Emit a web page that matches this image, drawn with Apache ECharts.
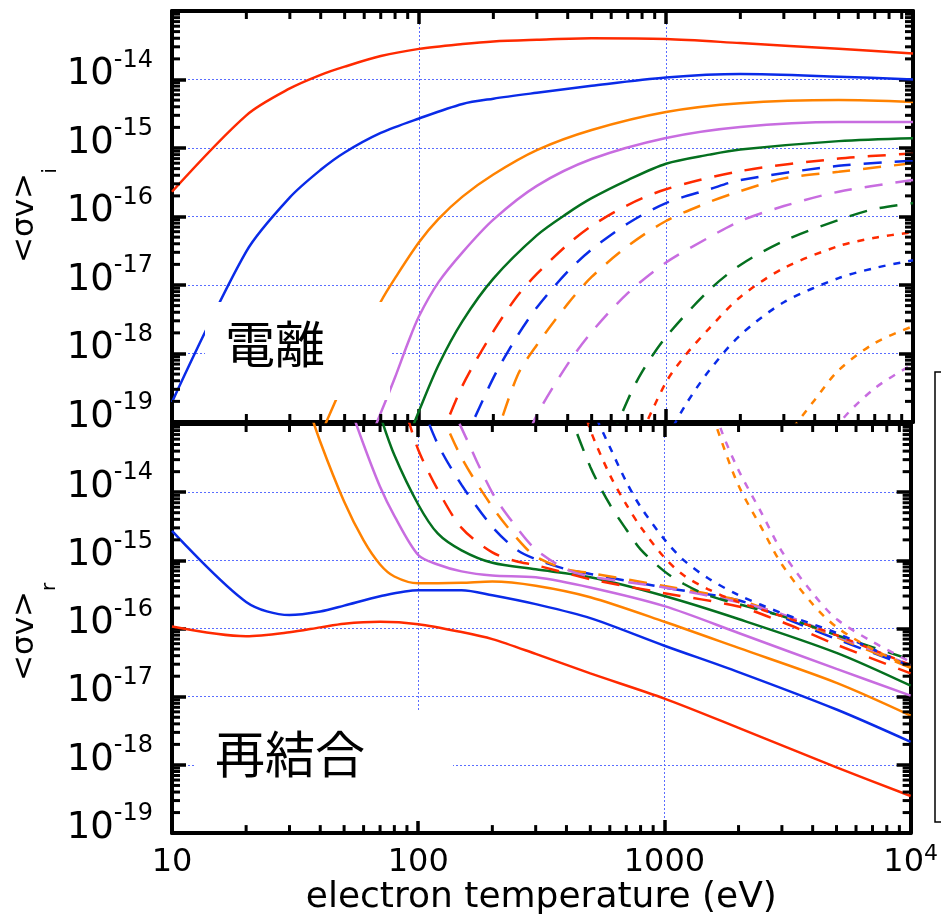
<!DOCTYPE html>
<html>
<head>
<meta charset="utf-8">
<script src="https://cdn.jsdelivr.net/npm/echarts@6/dist/echarts.min.js"></script>
<style>
  html, body { margin: 0; padding: 0; background: #fff; }
  #chart { width: 941px; height: 917px; }
</style>
</head>
<body>
<div id="chart"></div>
<script>
// Silicon ionization / recombination rate coefficients <σv> (cm^3/s) vs electron temperature (eV).
// Each array holds [Te, rate] pairs for one charge state.

// Ionization Si(z) -> Si(z+1)
const ion0  = [[10,2.3e-16],[20,3.0e-15],[30,7.4e-15],[40,1.17e-14],[50,1.54e-14],[70,2.2e-14],[100,2.8e-14],[150,3.3e-14],[200,3.6e-14],[300,3.8e-14],[500,4.0e-14],[1000,3.9e-14],[2000,3.4e-14],[5000,2.8e-14],[10000,2.4e-14]];
const ion1  = [[10,1.95e-19],[20,3.1e-17],[30,1.9e-16],[40,4.8e-16],[50,8.6e-16],[70,1.66e-15],[100,2.7e-15],[150,4.4e-15],[200,5.25e-15],[300,6.4e-15],[500,8.1e-15],[1000,1.07e-14],[2000,1.2e-14],[5000,1.1e-14],[10000,1.0e-14]];
const ion2  = [[40,6.5e-20],[50,4.1e-19],[60,1.86e-18],[70,5.7e-18],[80,1.26e-17],[100,4.2e-17],[120,9.2e-17],[150,1.95e-16],[200,4.1e-16],[300,9.3e-16],[500,1.83e-15],[1000,3.35e-15],[2000,4.5e-15],[5000,5.0e-15],[10000,4.7e-15]];
const ion3  = [[60,3.5e-20],[70,1.35e-19],[80,4.5e-19],[90,1.4e-18],[100,3.5e-18],[120,1.1e-17],[150,3.0e-17],[200,9.0e-17],[300,2.8e-16],[500,6.9e-16],[1000,1.4e-15],[2000,2.03e-15],[5000,2.4e-15],[10000,2.4e-15]];
const ion4  = [[90,5.5e-20],[100,1.45e-19],[120,6.8e-19],[150,2.97e-18],[200,1.24e-17],[300,5.3e-17],[400,1.12e-16],[500,1.85e-16],[700,3.4e-16],[1000,5.9e-16],[1500,8.0e-16],[2000,9.5e-16],[5000,1.26e-15],[10000,1.39e-15]];
const ion5  = [[120,4.9e-20],[150,3.4e-19],[200,2.1e-18],[250,6.9e-18],[300,1.45e-17],[400,3.9e-17],[500,7.3e-17],[700,1.47e-16],[1000,2.5e-16],[2000,4.6e-16],[5000,7.0e-16],[10000,8.3e-16]];
const ion6  = [[150,4.6e-20],[200,4.4e-19],[250,1.8e-18],[300,4.7e-18],[400,1.57e-17],[500,3.3e-17],[700,7.9e-17],[1000,1.57e-16],[1500,2.5e-16],[2000,3.4e-16],[5000,5.5e-16],[10000,6.5e-16]];
const ion7  = [[200,4.6e-20],[250,4.7e-19],[300,1.33e-18],[400,5.3e-18],[500,1.31e-17],[700,3.7e-17],[1000,8.6e-17],[1500,1.63e-16],[2000,2.35e-16],[3000,3.6e-16],[5000,4.5e-16],[10000,6.0e-16]];
const ion8  = [[250,2.8e-20],[300,1.26e-19],[400,7.0e-19],[500,2.06e-18],[700,7.6e-18],[1000,2.13e-17],[1500,5.0e-17],[2000,8.6e-17],[3000,1.42e-16],[5000,2.3e-16],[10000,3.4e-16]];
const ion9  = [[600,5.5e-20],[700,2.1e-19],[800,5.4e-19],[1000,1.74e-18],[1500,8.5e-18],[2000,1.96e-17],[3000,4.4e-17],[5000,8.9e-17],[7000,1.29e-16],[10000,1.57e-16]];
const ion10 = [[800,7.0e-20],[1000,3.8e-19],[1200,9.5e-19],[1500,2.35e-18],[2000,6.7e-18],[3000,1.77e-17],[5000,3.7e-17],[7000,4.9e-17],[10000,5.9e-17]];
const ion11 = [[1000,5.5e-20],[1200,1.78e-19],[1500,5.7e-19],[2000,1.86e-18],[3000,5.6e-18],[5000,1.26e-17],[7000,1.77e-17],[10000,2.3e-17]];
const ion12 = [[3000,5.5e-20],[4000,2.1e-19],[5000,5.7e-19],[7000,1.42e-18],[10000,2.5e-18]];
const ion13 = [[4000,2.0e-20],[5000,9.3e-20],[7000,3.1e-19],[10000,7.0e-19]];

// Recombination Si(z+1) -> Si(z)
const rec0  = [[10,1.07e-16],[20,7.7e-17],[30,8.8e-17],[40,1.04e-16],[50,1.18e-16],[70,1.26e-16],[100,1.16e-16],[150,8.9e-17],[200,7.0e-17],[300,4.25e-17],[500,2.2e-17],[1000,9.4e-18],[2000,3.5e-18],[5000,9.2e-19],[10000,3.5e-19]];
const rec1  = [[10,2.7e-15],[20,2.46e-16],[30,1.58e-16],[40,1.78e-16],[50,2.17e-16],[70,2.98e-16],[100,3.65e-16],[150,3.65e-16],[200,3.08e-16],[300,2.28e-16],[500,1.42e-16],[1000,5.6e-17],[2000,2.3e-17],[5000,6.5e-18],[10000,2.18e-18]];
const rec2  = [[35,2.3e-13],[40,5.5e-14],[50,7.3e-15],[60,1.96e-15],[70,8.7e-16],[80,5.8e-16],[100,4.6e-16],[150,4.7e-16],[200,4.9e-16],[300,4.25e-16],[500,2.88e-16],[1000,1.26e-16],[2000,5.2e-17],[5000,1.6e-17],[10000,5.3e-18]];
const rec3  = [[50,3.2e-13],[60,5.0e-14],[70,1.2e-14],[80,4.5e-15],[100,1.2e-15],[120,8.7e-16],[150,6.9e-16],[200,6.0e-16],[300,5.65e-16],[500,4.0e-16],[1000,2.13e-16],[2000,8.6e-17],[5000,2.56e-17],[10000,1.04e-17]];
const rec4  = [[70,1.35e-13],[80,3.5e-14],[100,6.6e-15],[120,2.48e-15],[150,1.4e-15],[200,9.2e-16],[300,7.4e-16],[500,5.65e-16],[1000,3.0e-16],[2000,1.38e-16],[5000,4.4e-17],[10000,1.45e-17]];
const rec5  = [[90,1.35e-13],[100,4.2e-14],[120,1.09e-14],[150,3.0e-15],[200,1.31e-15],[250,9.7e-16],[300,8.5e-16],[500,5.3e-16],[1000,3.3e-16],[2000,2.1e-16],[3000,1.25e-16],[5000,5.8e-17],[10000,2.2e-17]];
const rec6  = [[100,2.6e-13],[120,5.1e-14],[150,1.28e-14],[200,3.1e-15],[250,1.45e-15],[300,1.04e-15],[400,7.4e-16],[500,6.3e-16],[1000,4.0e-16],[2000,2.6e-16],[3000,1.47e-16],[5000,7.0e-17],[10000,2.74e-17]];
const rec7  = [[120,1.9e-13],[150,3.2e-14],[200,6.1e-15],[250,2.17e-15],[300,1.14e-15],[400,7.4e-16],[500,6.5e-16],[1000,4.2e-16],[2000,2.6e-16],[3000,1.57e-16],[5000,7.5e-17],[10000,2.65e-17]];
const rec8  = [[130,2.6e-13],[150,8.7e-14],[200,9.8e-15],[250,3.1e-15],[300,1.45e-15],[400,7.4e-16],[500,5.8e-16],[1000,4.0e-16],[2000,2.44e-16],[3000,1.63e-16],[5000,7.8e-17],[10000,2.9e-17]];
const rec9  = [[400,1.9e-13],[500,2.35e-14],[600,6.6e-15],[700,2.84e-15],[800,1.45e-15],[1000,6.9e-16],[1200,4.5e-16],[1500,3.08e-16],[2000,2.28e-16],[3000,1.52e-16],[5000,8.0e-17],[10000,3.5e-17]];
const rec10 = [[450,3.0e-13],[500,8.2e-14],[600,1.8e-14],[700,6.6e-15],[800,3.1e-15],[1000,1.1e-15],[1200,6.0e-16],[1500,3.8e-16],[2000,2.44e-16],[3000,1.52e-16],[5000,8.0e-17],[10000,2.9e-17]];
const rec11 = [[500,1.9e-13],[600,4.6e-14],[700,1.42e-14],[800,6.1e-15],[1000,2.03e-15],[1200,1.0e-15],[1500,5.5e-16],[2000,3.1e-16],[3000,1.68e-16],[5000,8.6e-17],[10000,2.74e-17]];
const rec12 = [[1500,2.2e-13],[1700,5.8e-14],[2000,1.25e-14],[2500,2.84e-15],[3000,8.7e-16],[4000,2.28e-16],[5000,1.05e-16],[7000,5.0e-17],[10000,2.74e-17]];
const rec13 = [[1500,3.8e-13],[1700,8.2e-14],[2000,2.1e-14],[2500,4.7e-15],[3000,1.35e-15],[4000,3.3e-16],[5000,1.38e-16],[7000,6.4e-17],[10000,3.25e-17]];

const ionSets = [ion0, ion1, ion2, ion3, ion4, ion5, ion6, ion7, ion8, ion9, ion10, ion11, ion12, ion13];
const recSets = [rec0, rec1, rec2, rec3, rec4, rec5, rec6, rec7, rec8, rec9, rec10, rec11, rec12, rec13];

// Axis ranges and tick decades
const TE_MIN = 10, TE_MAX = 10000;
const RATE_MIN = 1e-19, RATE_MAX = 1e-13;
const TE_DECADES = [10, 100, 1000];
const RATE_DECADES = [1e-19, 1e-18, 1e-17, 1e-16, 1e-15, 1e-14];
const MINOR_STEPS = [2, 3, 4, 5, 6, 7, 8, 9];

const PALETTE = ['#ff2a00', '#0a2be8', '#ff8200', '#c86de0', '#05701f'];
const DASHES = ['solid', [18, 13], [7, 8]];
const FONT = 'DejaVu Sans';

const chart = echarts.init(document.getElementById('chart'), null, { renderer: 'canvas' });

const grids = [
  { left: 172, width: 741, top: 11, height: 411 },
  { left: 172, width: 741, top: 424, height: 411 }
];

const frameLine = { show: true, onZero: false, lineStyle: { color: '#000', width: 4 } };
const majorTick = (len) => ({ show: true, inside: true, length: len, lineStyle: { color: '#000', width: 3.5 } });
const gridDots = { show: true, lineStyle: { color: '#5a6dff', width: 1, type: [2, 2] } };

function xLabel(v) {
  const e = Math.round(Math.log10(v));
  if (e >= 4) return '{b|10}{s|' + e + '}';
  return '{b|' + Math.round(Math.pow(10, e)) + '}';
}
function yLabel(v) {
  const e = Math.round(Math.log10(v));
  if (e > -14) return '';
  return '{b|10}{s|' + e + '}';
}

const xAxes = [], yAxes = [];
grids.forEach((g, gi) => {
  const isBottom = gi === 1;
  xAxes.push({
    gridIndex: gi, type: 'log', logBase: 10, min: TE_MIN, max: TE_MAX, position: 'bottom',
    axisLine: frameLine, axisTick: majorTick(13), splitLine: gridDots,
    axisLabel: isBottom ? {
      show: true, margin: 10, formatter: xLabel, color: '#000',
      rich: {
        b: { fontSize: 32, fontFamily: FONT, color: '#000', lineHeight: 40 },
        s: { fontSize: 22, fontFamily: FONT, color: '#000', verticalAlign: 'top', lineHeight: 22 }
      }
    } : { show: false },
    name: isBottom ? 'electron temperature (eV)' : '',
    nameLocation: 'middle', nameGap: 42,
    nameTextStyle: { fontSize: 36, fontFamily: FONT, color: '#000' }
  });
  xAxes.push({
    gridIndex: gi, type: 'log', logBase: 10, min: TE_MIN, max: TE_MAX, position: 'top',
    axisLine: frameLine, axisTick: majorTick(13), splitLine: { show: false }, axisLabel: { show: false }
  });
  yAxes.push({
    gridIndex: gi, type: 'log', logBase: 10, min: RATE_MIN, max: RATE_MAX, position: 'left',
    axisLine: frameLine, axisTick: majorTick(14), splitLine: gridDots,
    axisLabel: {
      show: true, margin: 19, formatter: yLabel, color: '#000', padding: [0, 0, 10, 0],
      rich: {
        b: { fontSize: 37, fontFamily: FONT, color: '#000', lineHeight: 52 },
        s: { fontSize: 24, fontFamily: FONT, color: '#000', verticalAlign: 'top', lineHeight: 22 }
      }
    }
  });
  yAxes.push({
    gridIndex: gi, type: 'log', logBase: 10, min: RATE_MIN, max: RATE_MAX, position: 'right',
    axisLine: frameLine, axisTick: majorTick(14), splitLine: { show: false }, axisLabel: { show: false }
  });
});

// Minor ticks (2..9 within each decade) drawn through the axes' own coordinate mapping
const teMinor = [], rateMinor = [];
TE_DECADES.forEach(d => MINOR_STEPS.forEach(m => teMinor.push([d * m])));
RATE_DECADES.forEach(d => MINOR_STEPS.forEach(m => rateMinor.push([d * m])));

function minorTickSeries(gi, data, onX) {
  return {
    type: 'custom', xAxisIndex: gi * 2, yAxisIndex: gi * 2, data: data, silent: true, z: 6,
    renderItem: function (params, api) {
      const v = api.value(0);
      const len = 8, w = 3;
      let a, b;
      if (onX) {
        a = api.coord([v, RATE_MIN]); b = api.coord([v, RATE_MAX]);
        return { type: 'group', children: [
          { type: 'line', shape: { x1: a[0], y1: a[1], x2: a[0], y2: a[1] - len }, style: { stroke: '#000', lineWidth: w } },
          { type: 'line', shape: { x1: b[0], y1: b[1], x2: b[0], y2: b[1] + len }, style: { stroke: '#000', lineWidth: w } }
        ]};
      }
      a = api.coord([TE_MIN, v]); b = api.coord([TE_MAX, v]);
      return { type: 'group', children: [
        { type: 'line', shape: { x1: a[0], y1: a[1], x2: a[0] + len, y2: a[1] }, style: { stroke: '#000', lineWidth: w } },
        { type: 'line', shape: { x1: b[0], y1: b[1], x2: b[0] - len, y2: b[1] }, style: { stroke: '#000', lineWidth: w } }
      ]};
    }
  };
}

const series = [];
function addCurves(sets, gi, prefix) {
  sets.forEach((d, i) => {
    series.push({
      name: prefix + i, type: 'line', xAxisIndex: gi * 2, yAxisIndex: gi * 2,
      data: d, showSymbol: false, symbol: 'none', clip: true, silent: true, z: 3,
      smooth: 0.3,
      lineStyle: { color: PALETTE[i % 5], width: 2.5, type: DASHES[Math.floor(i / 5)] }
    });
  });
}
addCurves(ionSets, 0, 'ion Si');
addCurves(recSets, 1, 'rec Si');
[0, 1].forEach(gi => {
  series.push(minorTickSeries(gi, teMinor, true));
  series.push(minorTickSeries(gi, rateMinor, false));
});

const centered = { fill: '#000', align: 'center', verticalAlign: 'middle', textAlign: 'center', textVerticalAlign: 'middle' };

chart.setOption({
  animation: false,
  backgroundColor: '#fff',
  grid: grids,
  xAxis: xAxes,
  yAxis: yAxes,
  series: series,
  graphic: [
    { type: 'rect', z: 50, shape: { x: 205, y: 302, width: 185, height: 98 }, style: { fill: '#fff' } },
    { type: 'text', z: 51, x: 275, y: 344, style: Object.assign({ text: '電離', fontSize: 50, fontFamily: 'Noto Sans CJK JP' }, centered) },
    { type: 'rect', z: 50, shape: { x: 195, y: 710, width: 258, height: 111 }, style: { fill: '#fff' } },
    { type: 'text', z: 51, x: 290, y: 754, style: Object.assign({ text: '再結合', fontSize: 50, fontFamily: 'Noto Sans CJK JP' }, centered) },
    { type: 'text', z: 51, x: 25, y: 218, rotation: Math.PI / 2, style: Object.assign({ text: '<σv>', fontSize: 31, fontFamily: FONT }, centered) },
    { type: 'text', z: 51, x: 51, y: 171, rotation: Math.PI / 2, style: Object.assign({ text: 'i', fontSize: 20, fontFamily: FONT }, centered) },
    { type: 'text', z: 51, x: 25, y: 636, rotation: Math.PI / 2, style: Object.assign({ text: '<σv>', fontSize: 31, fontFamily: FONT }, centered) },
    { type: 'text', z: 51, x: 50, y: 587, rotation: Math.PI / 2, style: Object.assign({ text: 'r', fontSize: 20, fontFamily: FONT }, centered) },
    { type: 'rect', z: 51, shape: { x: 935, y: 372, width: 40, height: 450 }, style: { fill: 'none', stroke: '#000', lineWidth: 1.5 } }
  ]
});
</script>
</body>
</html>
